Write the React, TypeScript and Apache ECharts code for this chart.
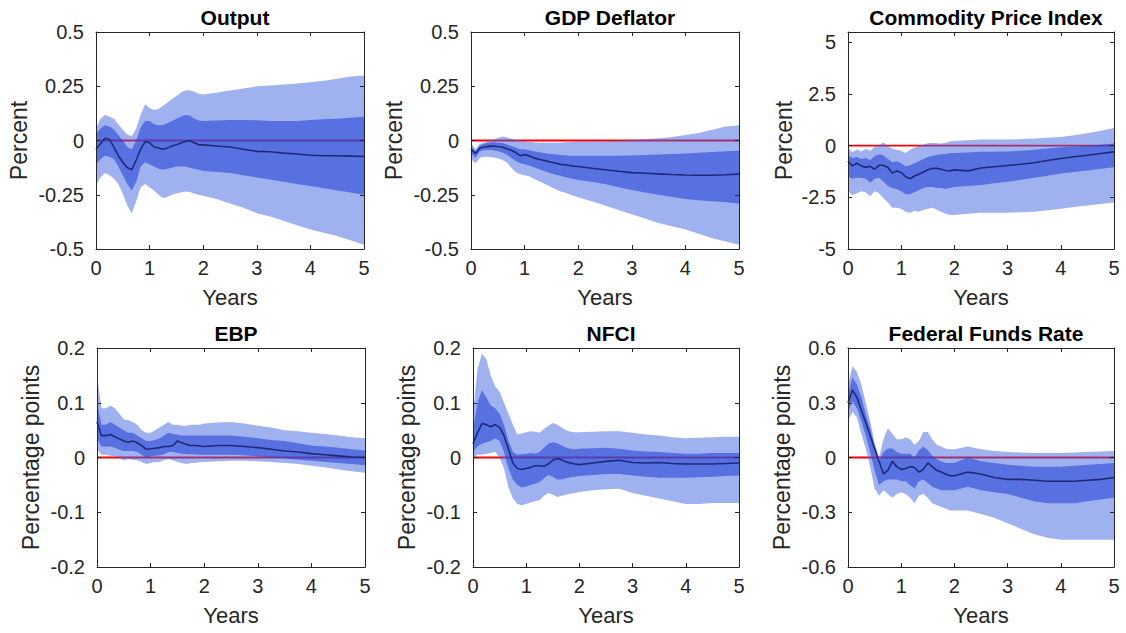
import React, { useEffect, useRef } from "react";
import * as echarts from "echarts";

// horizon in months: monthly for two years, then quarterly
const months = [0,1,2,3,4,5,6,7,8,9,10,11,12,13,14,15,16,17,18,19,20,21,22,23,24,27,30,33,36,39,42,45,48,51,54,57,60];
const xTicks = [0, 1, 2, 3, 4, 5];

// ---- Output ----
const outputMid = [-0.04,-0.015,0.01,0.005,-0.03,-0.07,-0.10,-0.125,-0.135,-0.09,-0.04,-0.005,-0.01,-0.03,-0.035,-0.04,-0.035,-0.025,-0.02,-0.012,-0.005,0.0,-0.01,-0.02,-0.02,-0.025,-0.03,-0.04,-0.05,-0.052,-0.058,-0.062,-0.068,-0.07,-0.07,-0.072,-0.074];
const outputHi90 = [0.055,0.1,0.117,0.11,0.1,0.075,0.05,0.028,0.02,0.055,0.12,0.167,0.15,0.14,0.145,0.16,0.175,0.19,0.205,0.22,0.23,0.232,0.225,0.215,0.212,0.22,0.23,0.24,0.25,0.254,0.258,0.263,0.268,0.275,0.285,0.295,0.30];
const outputLo90 = [-0.205,-0.17,-0.15,-0.16,-0.175,-0.2,-0.245,-0.3,-0.336,-0.28,-0.215,-0.2,-0.215,-0.23,-0.25,-0.265,-0.26,-0.25,-0.243,-0.24,-0.235,-0.237,-0.245,-0.25,-0.255,-0.27,-0.29,-0.31,-0.335,-0.35,-0.37,-0.39,-0.41,-0.425,-0.44,-0.46,-0.48];
const outputHi68 = [0.03,0.055,0.07,0.065,0.05,0.025,0.0,-0.03,-0.04,0.0,0.06,0.09,0.09,0.075,0.07,0.072,0.08,0.09,0.1,0.11,0.118,0.115,0.1,0.092,0.09,0.092,0.095,0.095,0.093,0.09,0.09,0.09,0.095,0.098,0.1,0.105,0.11];
const outputLo68 = [-0.11,-0.085,-0.07,-0.075,-0.085,-0.12,-0.16,-0.2,-0.23,-0.19,-0.12,-0.1,-0.11,-0.12,-0.13,-0.135,-0.13,-0.125,-0.12,-0.12,-0.12,-0.125,-0.13,-0.135,-0.14,-0.145,-0.15,-0.16,-0.17,-0.18,-0.19,-0.2,-0.21,-0.22,-0.23,-0.24,-0.25];

// ---- GDP Deflator ----
const gdpMid = [-0.04,-0.06,-0.035,-0.03,-0.027,-0.025,-0.028,-0.03,-0.038,-0.045,-0.055,-0.07,-0.065,-0.07,-0.08,-0.085,-0.09,-0.095,-0.1,-0.105,-0.11,-0.112,-0.115,-0.118,-0.12,-0.128,-0.135,-0.142,-0.148,-0.151,-0.154,-0.157,-0.159,-0.16,-0.16,-0.158,-0.155];
const gdpHi90 = [-0.01,-0.04,-0.015,-0.008,0.0,0.005,0.012,0.018,0.015,0.008,0.002,0.0,-0.003,-0.006,-0.008,-0.01,-0.01,-0.01,-0.01,-0.01,-0.01,-0.008,-0.008,-0.006,-0.005,-0.004,-0.003,-0.001,0.002,0.006,0.01,0.016,0.025,0.035,0.05,0.065,0.07];
const gdpLo90 = [-0.085,-0.105,-0.08,-0.075,-0.075,-0.078,-0.082,-0.09,-0.1,-0.125,-0.145,-0.155,-0.16,-0.165,-0.175,-0.185,-0.195,-0.205,-0.215,-0.225,-0.235,-0.24,-0.248,-0.255,-0.262,-0.28,-0.3,-0.32,-0.34,-0.36,-0.38,-0.395,-0.41,-0.43,-0.45,-0.465,-0.48];
const gdpHi68 = [-0.025,-0.048,-0.022,-0.015,-0.01,-0.008,-0.01,-0.012,-0.018,-0.025,-0.032,-0.04,-0.04,-0.045,-0.05,-0.053,-0.056,-0.06,-0.062,-0.065,-0.067,-0.068,-0.07,-0.07,-0.07,-0.07,-0.07,-0.07,-0.069,-0.067,-0.065,-0.062,-0.06,-0.057,-0.053,-0.05,-0.047];
const gdpLo68 = [-0.06,-0.08,-0.05,-0.045,-0.043,-0.045,-0.05,-0.055,-0.065,-0.08,-0.095,-0.105,-0.11,-0.115,-0.122,-0.13,-0.138,-0.145,-0.152,-0.158,-0.163,-0.168,-0.173,-0.177,-0.182,-0.19,-0.2,-0.215,-0.228,-0.24,-0.25,-0.26,-0.27,-0.275,-0.28,-0.285,-0.29];

// ---- Commodity Price Index ----
const cpiMid = [-0.74,-0.98,-0.85,-0.98,-1.05,-1.0,-1.14,-0.95,-0.95,-1.06,-1.33,-1.22,-1.3,-1.5,-1.6,-1.47,-1.38,-1.27,-1.17,-1.1,-1.1,-1.14,-1.2,-1.22,-1.17,-1.22,-1.08,-1.02,-0.96,-0.9,-0.83,-0.72,-0.62,-0.54,-0.46,-0.38,-0.3];
const cpiHi90 = [-0.1,-0.32,-0.18,-0.28,-0.15,-0.25,-0.05,0.05,0.15,-0.02,-0.15,-0.2,-0.25,-0.36,-0.2,-0.1,-0.02,0.06,0.12,0.14,0.12,0.1,0.14,0.2,0.22,0.26,0.3,0.3,0.3,0.32,0.35,0.38,0.42,0.5,0.6,0.72,0.85];
const cpiLo90 = [-2.2,-2.4,-2.3,-2.2,-2.25,-2.45,-2.2,-2.3,-2.55,-2.75,-3.0,-3.0,-3.05,-3.2,-3.25,-3.15,-3.2,-3.1,-3.05,-3.0,-3.1,-3.2,-3.3,-3.35,-3.35,-3.3,-3.25,-3.25,-3.25,-3.22,-3.2,-3.12,-3.05,-2.97,-2.9,-2.82,-2.75];
const cpiHi68 = [-0.45,-0.6,-0.55,-0.65,-0.6,-0.7,-0.5,-0.42,-0.48,-0.65,-0.8,-0.75,-0.85,-1.0,-0.95,-0.85,-0.75,-0.65,-0.55,-0.5,-0.45,-0.42,-0.4,-0.37,-0.35,-0.33,-0.3,-0.29,-0.28,-0.25,-0.2,-0.14,-0.08,-0.04,0.0,0.05,0.1];
const cpiLo68 = [-1.5,-1.6,-1.55,-1.55,-1.6,-1.8,-1.6,-1.55,-1.75,-1.95,-2.05,-2.1,-2.2,-2.35,-2.35,-2.25,-2.15,-2.05,-2.0,-2.0,-2.05,-2.05,-2.1,-2.05,-2.0,-1.95,-1.9,-1.82,-1.75,-1.65,-1.55,-1.45,-1.35,-1.27,-1.2,-1.12,-1.05];

// ---- EBP ----
const ebpMid = [0.065,0.04,0.04,0.042,0.038,0.034,0.03,0.028,0.03,0.027,0.022,0.015,0.016,0.017,0.018,0.02,0.02,0.022,0.03,0.027,0.024,0.022,0.022,0.021,0.02,0.022,0.022,0.02,0.018,0.015,0.012,0.01,0.007,0.005,0.003,0.001,0.0];
const ebpHi90 = [0.15,0.09,0.09,0.095,0.09,0.08,0.07,0.068,0.065,0.06,0.05,0.045,0.045,0.05,0.055,0.06,0.065,0.06,0.06,0.058,0.058,0.06,0.06,0.06,0.062,0.064,0.065,0.062,0.058,0.055,0.05,0.048,0.045,0.043,0.04,0.037,0.035];
const ebpLo90 = [0.015,0.005,0.005,0.003,0.002,-0.002,-0.005,-0.003,-0.004,-0.005,-0.008,-0.012,-0.01,-0.008,-0.008,-0.005,-0.003,-0.005,-0.008,-0.01,-0.012,-0.01,-0.01,-0.008,-0.008,-0.007,-0.006,-0.006,-0.007,-0.008,-0.01,-0.012,-0.015,-0.018,-0.022,-0.025,-0.028];
const ebpHi68 = [0.1,0.06,0.06,0.065,0.06,0.055,0.05,0.045,0.045,0.04,0.035,0.03,0.03,0.032,0.035,0.04,0.045,0.043,0.042,0.04,0.04,0.04,0.04,0.04,0.04,0.04,0.04,0.038,0.035,0.032,0.03,0.026,0.022,0.02,0.018,0.015,0.013];
const ebpLo68 = [0.035,0.02,0.02,0.02,0.018,0.014,0.012,0.012,0.012,0.01,0.005,0.0,0.002,0.003,0.004,0.006,0.01,0.01,0.008,0.007,0.006,0.006,0.006,0.005,0.005,0.005,0.005,0.004,0.002,0.0,-0.002,-0.004,-0.006,-0.008,-0.01,-0.012,-0.014];

// ---- NFCI ----
const nfciMid = [0.025,0.045,0.062,0.06,0.056,0.06,0.055,0.04,0.015,-0.01,-0.02,-0.022,-0.02,-0.018,-0.015,-0.015,-0.016,-0.012,-0.005,-0.002,-0.004,-0.008,-0.01,-0.012,-0.013,-0.01,-0.007,-0.005,-0.009,-0.01,-0.009,-0.011,-0.012,-0.012,-0.012,-0.011,-0.01];
const nfciHi90 = [0.08,0.16,0.19,0.18,0.15,0.13,0.12,0.1,0.08,0.06,0.042,0.044,0.046,0.048,0.047,0.045,0.052,0.058,0.063,0.06,0.055,0.05,0.047,0.046,0.046,0.047,0.048,0.048,0.045,0.042,0.04,0.037,0.035,0.036,0.037,0.038,0.038];
const nfciLo90 = [0.0,0.005,0.005,0.007,0.008,0.01,0.0,-0.02,-0.055,-0.075,-0.085,-0.087,-0.085,-0.082,-0.08,-0.078,-0.07,-0.065,-0.068,-0.072,-0.07,-0.068,-0.066,-0.065,-0.063,-0.06,-0.058,-0.057,-0.065,-0.07,-0.075,-0.08,-0.085,-0.085,-0.083,-0.083,-0.083];
const nfciHi68 = [0.05,0.1,0.123,0.11,0.095,0.09,0.08,0.06,0.03,0.01,0.005,0.006,0.007,0.008,0.007,0.01,0.018,0.025,0.028,0.026,0.022,0.018,0.016,0.015,0.016,0.017,0.018,0.016,0.013,0.011,0.01,0.008,0.007,0.007,0.008,0.008,0.008];
const nfciLo68 = [0.01,0.02,0.025,0.028,0.03,0.035,0.03,0.01,-0.02,-0.04,-0.05,-0.055,-0.053,-0.05,-0.048,-0.045,-0.038,-0.032,-0.035,-0.04,-0.04,-0.038,-0.036,-0.035,-0.034,-0.032,-0.03,-0.03,-0.033,-0.035,-0.037,-0.037,-0.037,-0.036,-0.035,-0.034,-0.033];

// ---- Federal Funds Rate ----
const ffrMid = [0.3,0.37,0.33,0.26,0.19,0.12,0.05,-0.02,-0.09,-0.07,-0.02,-0.05,-0.065,-0.06,-0.05,-0.055,-0.08,-0.065,-0.03,-0.05,-0.07,-0.08,-0.09,-0.1,-0.1,-0.08,-0.09,-0.11,-0.12,-0.12,-0.125,-0.13,-0.13,-0.13,-0.125,-0.12,-0.11];
const ffrHi90 = [0.4,0.5,0.47,0.4,0.3,0.2,0.08,0.0,0.1,0.16,0.13,0.1,0.1,0.11,0.1,0.07,0.09,0.14,0.14,0.1,0.07,0.06,0.05,0.045,0.045,0.06,0.045,0.035,0.03,0.027,0.025,0.025,0.025,0.027,0.03,0.033,0.035];
const ffrLo90 = [0.2,0.25,0.22,0.13,0.05,-0.05,-0.17,-0.21,-0.18,-0.2,-0.22,-0.2,-0.19,-0.2,-0.22,-0.25,-0.21,-0.2,-0.22,-0.25,-0.26,-0.27,-0.28,-0.29,-0.29,-0.29,-0.31,-0.33,-0.36,-0.39,-0.42,-0.44,-0.45,-0.45,-0.45,-0.45,-0.45];
const ffrHi68 = [0.35,0.44,0.4,0.33,0.24,0.16,0.06,-0.02,0.03,0.05,0.05,0.03,0.02,0.02,0.02,0.0,0.04,0.06,0.04,0.01,-0.01,-0.02,-0.03,-0.03,-0.03,0.0,-0.02,-0.03,-0.04,-0.045,-0.05,-0.05,-0.05,-0.045,-0.04,-0.035,-0.03];
const ffrLo68 = [0.25,0.31,0.27,0.2,0.12,0.03,-0.07,-0.15,-0.13,-0.12,-0.12,-0.12,-0.13,-0.13,-0.15,-0.17,-0.13,-0.12,-0.14,-0.16,-0.17,-0.18,-0.18,-0.18,-0.18,-0.16,-0.18,-0.19,-0.2,-0.22,-0.24,-0.25,-0.25,-0.25,-0.24,-0.23,-0.22];

const titles = ["Output", "GDP Deflator", "Commodity Price Index", "EBP", "NFCI", "Federal Funds Rate"];
const yNames = ["Percent", "Percent", "Percent", "Percentage points", "Percentage points", "Percentage points"];
const yMins = [-0.5, -0.5, -5, -0.2, -0.2, -0.6];
const yMaxs = [0.5, 0.5, 5.5, 0.2, 0.2, 0.6];
const yIntervals = [0.25, 0.25, 2.5, 0.1, 0.1, 0.3];

const panelData = [
  { mid: outputMid, hi90: outputHi90, lo90: outputLo90, hi68: outputHi68, lo68: outputLo68 },
  { mid: gdpMid, hi90: gdpHi90, lo90: gdpLo90, hi68: gdpHi68, lo68: gdpLo68 },
  { mid: cpiMid, hi90: cpiHi90, lo90: cpiLo90, hi68: cpiHi68, lo68: cpiLo68 },
  { mid: ebpMid, hi90: ebpHi90, lo90: ebpLo90, hi68: ebpHi68, lo68: ebpLo68 },
  { mid: nfciMid, hi90: nfciHi90, lo90: nfciLo90, hi68: nfciHi68, lo68: nfciLo68 },
  { mid: ffrMid, hi90: ffrHi90, lo90: ffrLo90, hi68: ffrHi68, lo68: ffrLo68 },
];

// layout
const grids = [
  { left: 96, top: 32, width: 268, height: 217 },
  { left: 471, top: 32, width: 268, height: 217 },
  { left: 848, top: 32, width: 266, height: 217 },
  { left: 97, top: 348, width: 268, height: 219 },
  { left: 473, top: 348, width: 266, height: 219 },
  { left: 848, top: 348, width: 266, height: 219 },
];
const yNameGaps = [66, 66, 53, 55, 55, 55];

const FONT = "'Liberation Sans', Arial, Helvetica, sans-serif";
const AX = "#262626";
const OUTER = "rgba(65,100,225,0.5)";
const INNER = "rgba(40,70,215,0.6)";
const MEDIAN = "#1c2a7a";

function bandSeries(xi: number, yi: number, xs: number[], lo: number[], hi: number[], color: string, z: number) {
  return {
    type: "custom",
    xAxisIndex: xi,
    yAxisIndex: yi,
    silent: true,
    z,
    data: xs.map((x, k) => [x, lo[k], hi[k]]),
    encode: { x: 0, y: [1, 2] },
    renderItem: (params: any, api: any) => {
      if (params.dataIndex !== 0) return null;
      const pts: number[][] = [];
      for (let k = 0; k < xs.length; k++) pts.push(api.coord([xs[k], hi[k]]));
      for (let k = xs.length - 1; k >= 0; k--) pts.push(api.coord([xs[k], lo[k]]));
      return { type: "polygon", shape: { points: pts }, style: { fill: color, stroke: "none" } };
    },
  };
}

function buildOption() {
  const years = months.map((m) => m / 12);
  const xAxis: any[] = [];
  const yAxis: any[] = [];
  const series: any[] = [];
  const title: any[] = [];

  grids.forEach((g, i) => {
    title.push({
      text: titles[i],
      left: g.left + g.width / 2,
      top: g.top - 30,
      textAlign: "center",
      textStyle: { fontFamily: FONT, fontSize: 21, fontWeight: "bold", color: "#000" },
    });
    const common = { gridIndex: i, type: "value", splitLine: { show: false }, z: 10 };
    const tick = { show: true, inside: true, length: 4, lineStyle: { color: AX } };
    const line = { show: true, onZero: false, lineStyle: { color: AX, width: 1 } };
    xAxis.push({
      ...common,
      min: xTicks[0], max: xTicks[xTicks.length - 1], interval: 1,
      position: "bottom",
      axisLine: line, axisTick: tick,
      axisLabel: { fontFamily: FONT, fontSize: 20, color: AX, margin: 9 },
      name: "Years", nameLocation: "middle", nameGap: 37,
      nameTextStyle: { fontFamily: FONT, fontSize: 22, color: AX },
    });
    xAxis.push({
      ...common,
      min: xTicks[0], max: xTicks[xTicks.length - 1], interval: 1,
      position: "top",
      axisLine: line, axisTick: tick,
      axisLabel: { show: false },
    });
    yAxis.push({
      ...common,
      min: yMins[i], max: yMaxs[i], interval: yIntervals[i],
      position: "left",
      axisLine: line, axisTick: tick,
      axisLabel: { fontFamily: FONT, fontSize: 20, color: AX, margin: 12, showMaxLabel: yMaxs[i] === 5.5 ? false : true },
      name: yNames[i], nameLocation: "middle", nameGap: yNameGaps[i],
      nameTextStyle: { fontFamily: FONT, fontSize: 23, color: AX },
    });
    yAxis.push({
      ...common,
      min: yMins[i], max: yMaxs[i], interval: yIntervals[i],
      position: "right",
      axisLine: line, axisTick: tick,
      axisLabel: { show: false },
    });

    const d = panelData[i];
    const xi = 2 * i;
    const yi = 2 * i;
    series.push({
      type: "line", xAxisIndex: xi, yAxisIndex: yi, symbol: "none", silent: true, z: 2,
      data: [[xTicks[0], 0], [xTicks[xTicks.length - 1], 0]],
      lineStyle: { color: "#ff0000", width: 1.8 },
    });
    series.push(bandSeries(xi, yi, years, d.lo90, d.hi90, OUTER, 3));
    series.push(bandSeries(xi, yi, years, d.lo68, d.hi68, INNER, 4));
    series.push({
      type: "line", xAxisIndex: xi, yAxisIndex: yi, symbol: "none", silent: true, z: 5,
      data: years.map((x, k) => [x, d.mid[k]]),
      lineStyle: { color: MEDIAN, width: 1.6 },
    });
  });

  return {
    animation: false,
    backgroundColor: "#ffffff",
    textStyle: { fontFamily: FONT },
    title,
    grid: grids.map((g) => ({ ...g, containLabel: false })),
    xAxis,
    yAxis,
    series,
  };
}

export default function App() {
  const ref = useRef<HTMLDivElement>(null);
  useEffect(() => {
    if (!ref.current) return;
    const chart = echarts.init(ref.current, undefined, { renderer: "svg" });
    chart.setOption(buildOption() as any);
    return () => chart.dispose();
  }, []);
  return (
    <div
      ref={ref}
      style={{ position: "absolute", left: 0, top: 0, width: 1126, height: 633, background: "#fff" }}
    />
  );
}
